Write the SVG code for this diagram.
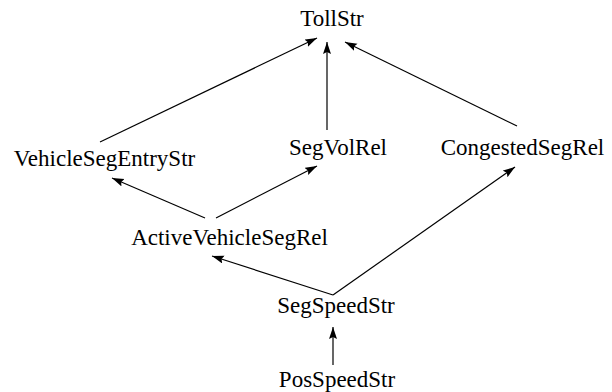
<svg xmlns="http://www.w3.org/2000/svg" width="612" height="392" viewBox="0 0 612 392">
<style>
text{font-family:"Liberation Serif","Times New Roman",serif;font-size:23px;fill:#000;text-anchor:middle}
.e line{stroke:#000;stroke-width:1.2;fill:none;marker-end:url(#ah)}
</style>
<defs>
<marker id="ah" markerUnits="userSpaceOnUse" markerWidth="13" markerHeight="9" refX="12" refY="4" orient="auto">
<path d="M0,0 L12,4 L0,8 L2,4 z" fill="#000"/>
</marker>
</defs>
<rect width="612" height="392" fill="#fff"/>
<g class="e" id="edges">
<line x1="100" y1="142" x2="317" y2="38"/>
<line x1="327" y1="130" x2="327" y2="42"/>
<line x1="517" y1="126" x2="345" y2="42"/>
<line x1="205" y1="218" x2="112" y2="178"/>
<line x1="216" y1="218" x2="317" y2="166"/>
<line x1="333" y1="295" x2="212" y2="256"/>
<line x1="333" y1="295" x2="515" y2="167"/>
<line x1="333" y1="365" x2="333" y2="327"/>
</g>
<g id="TollStr"><text x="332" y="26">TollStr</text></g>
<g id="VehicleSegEntryStr"><text x="104.5" y="166">VehicleSegEntryStr</text></g>
<g id="SegVolRel"><text x="338" y="155">SegVolRel</text></g>
<g id="CongestedSegRel"><text x="522.5" y="155">CongestedSegRel</text></g>
<g id="ActiveVehicleSegRel"><text x="229.5" y="245">ActiveVehicleSegRel</text></g>
<g id="SegSpeedStr"><text x="336" y="313">SegSpeedStr</text></g>
<g id="PosSpeedStr"><text x="337" y="387">PosSpeedStr</text></g>
</svg>
